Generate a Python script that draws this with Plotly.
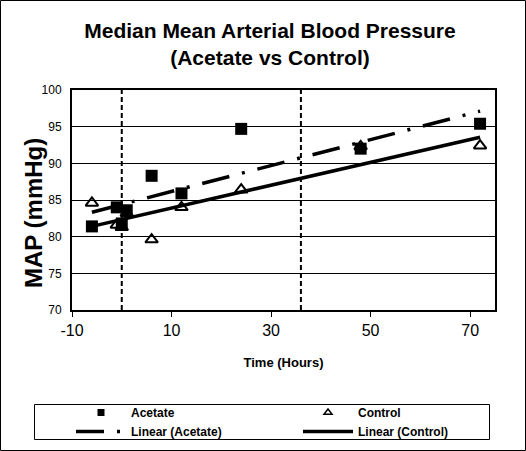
import numpy as np
import plotly.graph_objects as go

hours = [-6, -1, 0, 1, 6, 12, 24, 48, 72]
acetate = [81.4, 84.0, 81.8, 83.6, 88.3, 85.9, 94.7, 92.0, 95.4]
control = [84.6, 81.6, 81.3, 83.2, 79.6, 84.0, 86.4, 92.3, 92.4]
markers_x = [0, 36]
x_ticks = [-10, 10, 30, 50, 70]
x_tick_text = ["-10", "10", "30", "50", "70"]
y_ticks = [70, 75, 80, 85, 90, 95, 100]

W, H = 526, 451
L, R, T, B = 72, 31, 90, 141
pw, ph = W - L - R, H - T - B

def px_x(p):
    return (p - L) / pw

def px_y(p):
    return (T + ph - p) / ph

def fit(x, y):
    m, c = np.polyfit(x, y, 1)
    xs = np.array([min(x), max(x)])
    return xs, m * xs + c

acet_dash = "28px,13px,3px,13px"
fig = go.Figure()
fig.add_trace(go.Scatter(x=hours, y=acetate, mode="markers", name="Acetate", showlegend=False,
                         marker=dict(symbol="square", size=12, color="black")))
fig.add_trace(go.Scatter(x=hours, y=control, mode="markers", name="Control", showlegend=False,
                         marker=dict(symbol="triangle-up-open", size=11, color="black",
                                     line=dict(width=2, color="black"))))
xa, ya = fit(hours, acetate)
fig.add_trace(go.Scatter(x=xa, y=ya, mode="lines", name="Linear (Acetate)", showlegend=False,
                         line=dict(color="black", width=3.5, dash=acet_dash)))
xc, yc = fit(hours, control)
fig.add_trace(go.Scatter(x=xc, y=yc, mode="lines", name="Linear (Control)", showlegend=False,
                         line=dict(color="black", width=3.5)))

# legend entries (smaller symbols, like the reference legend)
fig.add_trace(go.Scatter(x=[None], y=[None], mode="markers", name="Acetate", legend="legend",
                         marker=dict(symbol="square", size=7, color="black")))
fig.add_trace(go.Scatter(x=[None], y=[None], mode="lines", name="Linear (Acetate)", legend="legend",
                         line=dict(color="black", width=3.5, dash=acet_dash)))
fig.add_trace(go.Scatter(x=[None], y=[None], mode="markers", name="Control", legend="legend2",
                         marker=dict(symbol="triangle-up-open", size=7, color="black",
                                     line=dict(width=1.5, color="black"))))
fig.add_trace(go.Scatter(x=[None], y=[None], mode="lines", name="Linear (Control)", legend="legend2",
                         line=dict(color="black", width=3.5)))

shapes = []
for xv in markers_x:
    shapes.append(dict(type="line", xref="x", yref="paper", x0=xv, x1=xv, y0=0, y1=1,
                       line=dict(color="black", width=2, dash="5px,3px"), layer="above"))
# outer chart border
shapes.append(dict(type="rect", xref="paper", yref="paper",
                   x0=px_x(0.5), x1=px_x(W - 0.5), y0=px_y(H - 0.5), y1=px_y(0.5),
                   line=dict(color="black", width=1)))
# legend frame
shapes.append(dict(type="rect", xref="paper", yref="paper",
                   x0=px_x(34.5), x1=px_x(489.5), y0=px_y(439.5), y1=px_y(404.5),
                   line=dict(color="black", width=1)))

leg_common = dict(orientation="v", xanchor="left", yanchor="top",
                  borderwidth=0, bgcolor="rgba(0,0,0,0)", tracegroupgap=0,
                  itemwidth=50, font=dict(size=12, weight="bold"))

fig.update_layout(
    width=W, height=H,
    margin=dict(l=L, r=R, t=T, b=B, autoexpand=False),
    paper_bgcolor="white", plot_bgcolor="white",
    font=dict(family="Liberation Sans, Arial", color="black"),
    title=dict(text="<b>Median Mean Arterial Blood Pressure<br>(Acetate vs Control)</b>",
               x=0.468, xref="paper", xanchor="center",
               y=1 - 38 / H, yref="container", yanchor="top",
               font=dict(size=21, family="Liberation Sans, Arial")),
    shapes=shapes,
    annotations=[dict(text="<b>MAP (mmHg)</b>", textangle=-90, showarrow=False,
                      xref="paper", yref="paper", x=px_x(33), y=px_y(213),
                      xanchor="center", yanchor="middle", font=dict(size=24))],
    showlegend=True,
    legend=dict(x=px_x(71), y=px_y(398), **leg_common),
    legend2=dict(x=px_x(298), y=px_y(398), **leg_common),
)
fig.update_xaxes(range=[-10, 75], tickvals=x_ticks, ticktext=x_tick_text,
                 ticks="outside", ticklen=5, automargin=False,
                 tickwidth=1, tickcolor="black", showgrid=False, zeroline=False,
                 showline=True, linecolor="black", linewidth=2, mirror=True,
                 tickfont=dict(size=16),
                 title=dict(text="<b>Time (Hours)</b>", font=dict(size=13), standoff=20))
fig.update_yaxes(range=[70, 100], tickvals=y_ticks, showgrid=True, gridcolor="black",
                 gridwidth=1, zeroline=False, showline=True, linecolor="black",
                 linewidth=2, mirror=True, ticks="", automargin=False,
                 ticklabelstandoff=6,
                 tickfont=dict(size=12, family="Liberation Sans Narrow, Liberation Sans"),
                 tickprefix="<b>", ticksuffix="</b>")

fig.write_html("out.html", config={"displayModeBar": False},
               post_script="document.body.style.margin='0';document.body.style.padding='0';")
